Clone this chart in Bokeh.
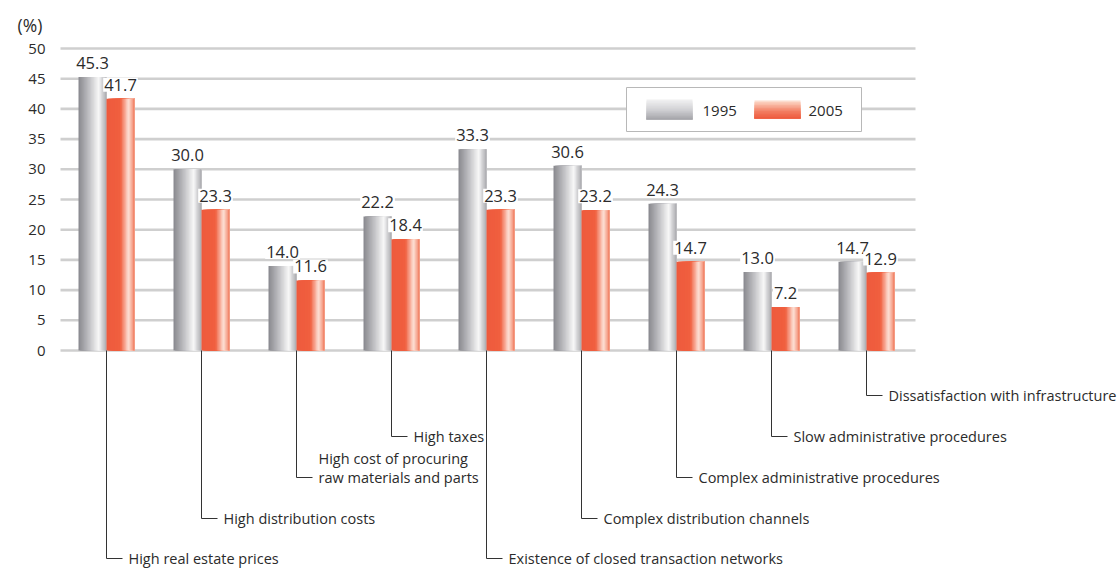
import numpy as np
from bokeh.plotting import figure
from bokeh.models import Range1d, FixedTicker, ColumnDataSource, Title
from bokeh.core.properties import value
from bokeh.embed import file_html
from bokeh.resources import INLINE

# ---- data -------------------------------------------------------------
categories = [
    "High real estate prices",
    "High distribution costs",
    "High cost of procuring\nraw materials and parts",
    "High taxes",
    "Existence of closed transaction networks",
    "Complex distribution channels",
    "Complex administrative procedures",
    "Slow administrative procedures",
    "Dissatisfaction with infrastructure",
]
values_1995 = [45.3, 30.0, 14.0, 22.2, 33.3, 30.6, 24.3, 13.0, 14.7]
values_2005 = [41.7, 23.3, 11.6, 18.4, 23.3, 23.2, 14.7, 7.2, 12.9]
series_names = ["1995", "2005"]
y_ticks = [0, 5, 10, 15, 20, 25, 30, 35, 40, 45, 50]
label_tier = [0, 1, 2, 3, 0, 1, 2, 3, 4]   # depth of each category's leader line

# ---- layout (pixels) --------------------------------------------------
W, H = 1119, 568
FRAME_LEFT = 52          # left edge of plotting frame
FRAME_TOP = 44           # room above the frame for the unit caption
X0_PX, STEP_PX = 106, 95 # first group centre, group spacing
Y0_PX, UNIT_PX = 350, 6.04  # baseline, pixels per percentage point
BAR_PX = 28
GRID_L_PX, GRID_R_PX = 60, 915
TIER_PX = [558, 518, 477, 436, 395]
FONT = "Open Sans"
TEXT_COLOR = "#2b2b2b"


def dx(px):
    return (px - X0_PX) / STEP_PX


def dy(py):
    return (Y0_PX - py) / UNIT_PX


def hex_to_rgb(h):
    h = h.lstrip("#")
    return np.array([int(h[i:i + 2], 16) for i in (0, 2, 4)], dtype=float)


def ramp(stops, n):
    pos = np.array([s[0] for s in stops])
    cols = np.array([hex_to_rgb(s[1]) for s in stops])
    out = []
    for k in range(n):
        t = (k + 0.5) / n
        rgb = [np.interp(t, pos, cols[:, c]) for c in range(3)]
        out.append("#%02x%02x%02x" % tuple(int(round(v)) for v in rgb))
    return out


GRAY_STOPS = [(0.0, "#88888d"), (0.35, "#bcbcc0"), (0.72, "#f8f8f8"), (1.0, "#a9a9ad")]
RED_STOPS = [(0.0, "#ee5a3d"), (0.5, "#f0603f"), (0.79, "#fde3d9"), (1.0, "#f07a5c")]

p = figure(
    width=W, height=H,
    x_range=Range1d(dx(FRAME_LEFT), dx(W)),
    y_range=Range1d(dy(H), dy(FRAME_TOP)),
    x_axis_location=None,
    output_backend="svg", toolbar_location=None,
    min_border_left=FRAME_LEFT, min_border_right=0,
    min_border_top=FRAME_TOP, min_border_bottom=0,
)
p.outline_line_color = None
p.xgrid.grid_line_color = None
p.ygrid.grid_line_color = None
p.background_fill_color = "white"
p.border_fill_color = "white"

p.add_layout(Title(text="(%)", align="left", offset=-(FRAME_LEFT - 17),
                   standoff=16, text_font=FONT, text_font_size="17.5px",
                   text_font_style="normal", text_color=TEXT_COLOR), "above")

yax = p.yaxis[0]
yax.ticker = FixedTicker(ticks=y_ticks)
yax.axis_line_color = None
yax.major_tick_line_color = None
yax.minor_tick_line_color = None
yax.major_tick_out = 0
yax.major_label_standoff = 7
yax.major_label_text_font = FONT
yax.major_label_text_font_size = "15px"
yax.major_label_text_color = TEXT_COLOR

# horizontal gridlines
p.segment(x0=[dx(GRID_L_PX)] * len(y_ticks), y0=y_ticks,
          x1=[dx(GRID_R_PX)] * len(y_ticks), y1=y_ticks,
          line_color="#cfcfcf", line_width=2.6)

idx = np.arange(len(categories))
bw = BAR_PX / STEP_PX
N = 20


def gradient_bars(vals, offset, stops):
    # each slice runs to the bar's right edge; later slices cover earlier ones
    cols = ramp(stops, N)
    left, right, top, cs = [], [], [], []
    for k in range(N):
        for i, v in zip(idx, vals):
            left.append(i + offset + k * bw / N)
            right.append(i + offset + bw)
            top.append(v)
            cs.append(cols[k])
    src = ColumnDataSource(dict(left=left, right=right, top=top, color=cs))
    p.quad(left="left", right="right", top="top", bottom=0, source=src,
           fill_color="color", line_color=None)


gradient_bars(values_1995, -bw, GRAY_STOPS)
gradient_bars(values_2005, 0.0, RED_STOPS)

# value labels
lab_x = list(idx - bw / 2) + list(idx + bw / 2)
lab_y = values_1995 + values_2005
lab_t = ["%.1f" % v for v in lab_y]
p.text(x=lab_x, y=lab_y, text=lab_t, text_align="center", text_baseline="bottom",
       y_offset=-7, text_font=value(FONT), text_font_size="16.5px",
       text_color=TEXT_COLOR, background_fill_color="white", padding=1)

# leader lines to category names
tier_y = [dy(TIER_PX[t]) for t in label_tier]
p.segment(x0=idx, y0=[0] * len(idx), x1=idx, y1=tier_y,
          line_color="#333333", line_width=1)
p.segment(x0=idx, y0=tier_y, x1=idx + 16 / STEP_PX, y1=tier_y,
          line_color="#333333", line_width=1)
y_off = [-9.5 if "\n" in c else 0 for c in categories]
p.text(x=idx, y=tier_y, text=categories, x_offset=22, y_offset=y_off,
       text_align="left", text_baseline="middle", text_line_height=1.0,
       text_font=value(FONT), text_font_size="14.5px", text_color=TEXT_COLOR)

# legend box
p.quad(left=[dx(626)], right=[dx(861)], top=[dy(87)], bottom=[dy(131)],
       fill_color="white", line_color="#b8b8b8", line_width=1)


def swatch(x_l, x_r, y_t, y_b, stops, n=12):
    cols = ramp(stops, n)
    h = (y_b - y_t) / n
    p.quad(left=[dx(x_l)] * n, right=[dx(x_r)] * n,
           top=[dy(y_t + k * h) for k in range(n)],
           bottom=[dy(y_b)] * n,
           fill_color=cols, line_color=None)


swatch(646, 692, 99, 119, [(0.0, "#f2f2f3"), (0.5, "#d2d2d5"), (1.0, "#a3a3a8")])
swatch(754, 800, 100, 118, [(0.0, "#fde4d8"), (0.15, "#fbc7b4"), (0.6, "#f27e62"), (1.0, "#ee5a3d")])
p.text(x=[dx(702), dx(808)], y=[dy(110), dy(110)], text=series_names,
       text_align="left", text_baseline="middle", text_font=value(FONT),
       text_font_size="15px", text_color=TEXT_COLOR)

open("out.html", "w").write(file_html(p, INLINE))
